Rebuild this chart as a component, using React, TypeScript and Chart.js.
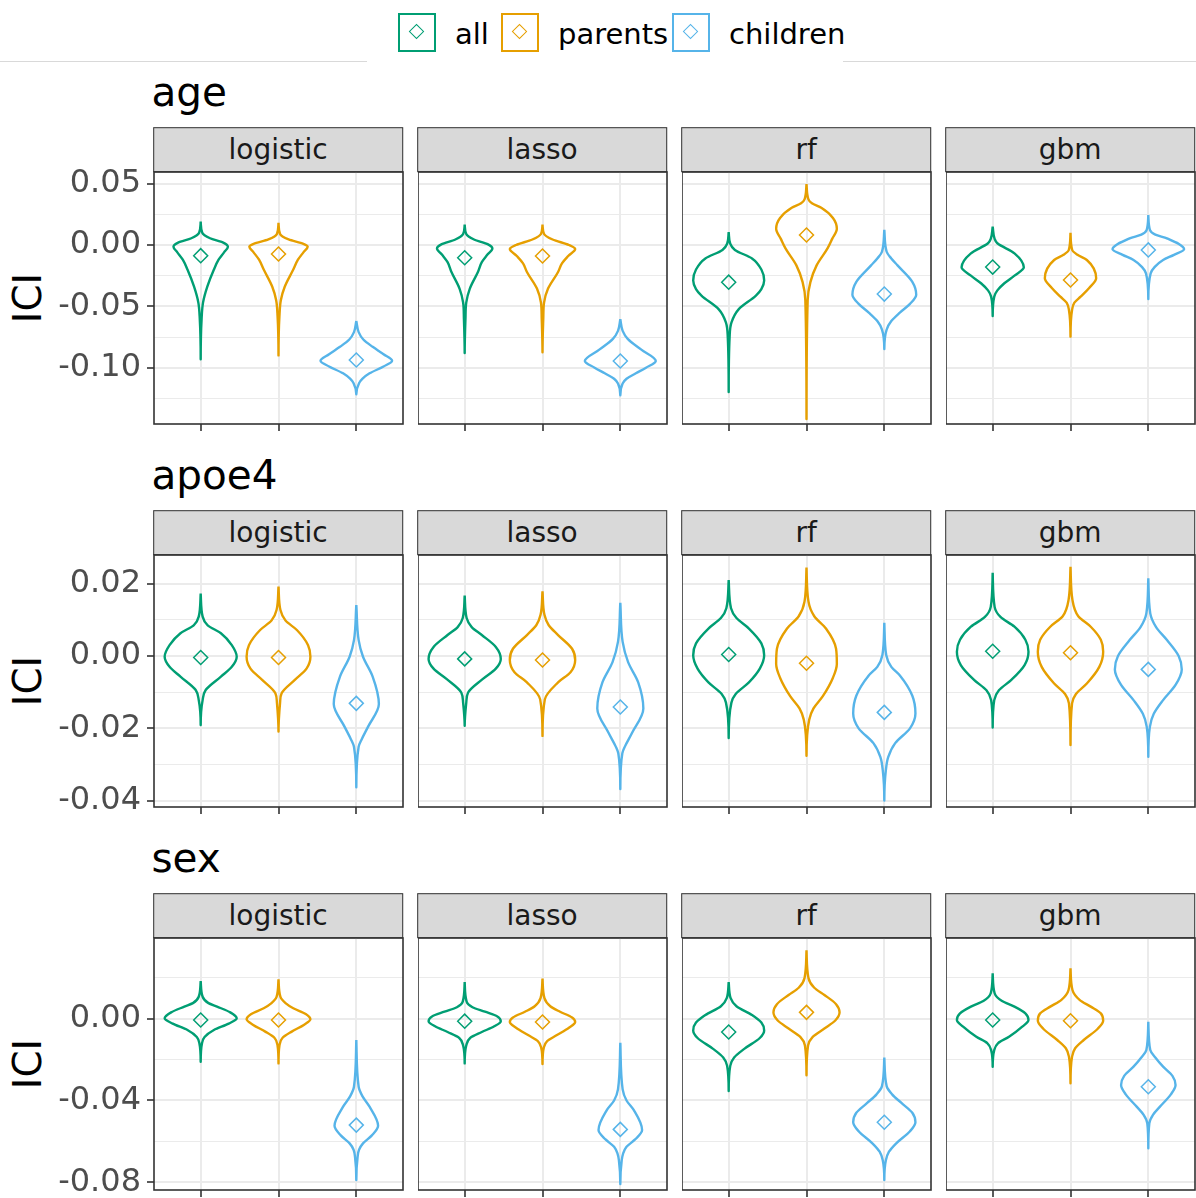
import React, { useEffect, useRef } from 'react';
import { Chart, registerables } from 'chart.js';

Chart.register(...registerables);
Chart.defaults.font.family = '"DejaVu Sans", sans-serif';

type Profile = [number, number][]; // [ICI value, half width in category units], top to bottom

const GROUPS = ['all', 'parents', 'children'];
const GROUP_COLORS = ['#009E73', '#E69F00', '#56B4E9'];
const MODELS = ['logistic', 'lasso', 'rf', 'gbm'];
const CATEGORY_POS = [1, 2, 3];

// ---------- age ----------
const AGE_TICKS = [0.05, 0, -0.05, -0.1];
const AGE_MINOR = [0.025, -0.025, -0.075, -0.125];
const AGE_LIMITS = [-0.1459, 0.0595];
const AGE_LOGISTIC: Profile[] = [
  [[0.019, 0], [0.010, 0.02], [0.0055, 0.12], [0.002, 0.29], [-0.0014, 0.35], [-0.006, 0.3], [-0.012, 0.23], [-0.02, 0.17], [-0.034, 0.085], [-0.047, 0.03], [-0.06, 0.012], [-0.0932, 0]],
  [[0.018, 0], [0.009, 0.02], [0.0045, 0.13], [0.001, 0.32], [-0.0014, 0.375], [-0.006, 0.32], [-0.012, 0.25], [-0.02, 0.19], [-0.034, 0.08], [-0.045, 0.03], [-0.058, 0.012], [-0.09, 0]],
  [[-0.062, 0], [-0.071, 0.03], [-0.077, 0.09], [-0.083, 0.21], [-0.089, 0.35], [-0.0943, 0.46], [-0.099, 0.35], [-0.1046, 0.17], [-0.109, 0.08], [-0.1127, 0.035], [-0.1217, 0]],
];
const AGE_LASSO: Profile[] = [
  [[0.0166, 0], [0.009, 0.02], [0.0045, 0.12], [0.0005, 0.3], [-0.0028, 0.356], [-0.008, 0.29], [-0.014, 0.22], [-0.022, 0.17], [-0.0357, 0.065], [-0.047, 0.02], [-0.06, 0.01], [-0.088, 0]],
  [[0.0166, 0], [0.009, 0.02], [0.0045, 0.13], [0.0, 0.34], [-0.0033, 0.42], [-0.009, 0.33], [-0.015, 0.25], [-0.022, 0.2], [-0.0357, 0.07], [-0.047, 0.02], [-0.06, 0.01], [-0.0875, 0]],
  [[-0.0606, 0], [-0.07, 0.03], [-0.0765, 0.095], [-0.0853, 0.27], [-0.0945, 0.456], [-0.1, 0.33], [-0.1046, 0.2], [-0.109, 0.08], [-0.1129, 0.03], [-0.1225, 0]],
];
const AGE_RF: Profile[] = [
  [[0.0104, 0], [0.001, 0.02], [-0.004, 0.08], [-0.011, 0.3], [-0.02, 0.42], [-0.029, 0.456], [-0.036, 0.42], [-0.0413, 0.35], [-0.0523, 0.13], [-0.0633, 0.035], [-0.075, 0.012], [-0.1198, 0]],
  [[0.0496, 0], [0.0372, 0.025], [0.034, 0.07], [0.0303, 0.19], [0.022, 0.34], [0.0132, 0.39], [0.005, 0.33], [-0.0028, 0.27], [-0.0166, 0.13], [-0.0303, 0.05], [-0.045, 0.015], [-0.1418, 0]],
  [[0.0124, 0], [-0.0055, 0.03], [-0.011, 0.09], [-0.0166, 0.17], [-0.03, 0.36], [-0.0405, 0.41], [-0.048, 0.33], [-0.0551, 0.2], [-0.062, 0.09], [-0.0689, 0.03], [-0.0848, 0]],
];
const AGE_GBM: Profile[] = [
  [[0.0149, 0], [0.005, 0.025], [0.0014, 0.06], [-0.0068, 0.28], [-0.0182, 0.4], [-0.025, 0.28], [-0.0312, 0.15], [-0.037, 0.06], [-0.0421, 0.02], [-0.0579, 0]],
  [[0.01, 0], [-0.0041, 0.022], [-0.008, 0.09], [-0.0122, 0.21], [-0.0272, 0.33], [-0.035, 0.24], [-0.0421, 0.13], [-0.047, 0.05], [-0.053, 0.02], [-0.0747, 0]],
  [[0.0244, 0], [0.0122, 0.022], [0.0085, 0.09], [0.0054, 0.24], [-0.0035, 0.46], [-0.008, 0.33], [-0.0122, 0.19], [-0.018, 0.08], [-0.0231, 0.03], [-0.044, 0]],
];
const AGE_MEANS = [
  [-0.0087, -0.0073, -0.0937],
  [-0.0104, -0.009, -0.0945],
  [-0.0303, 0.0082, -0.04],
  [-0.018, -0.0285, -0.004],
];

// ---------- apoe4 ----------
const APOE4_TICKS = [0.02, 0, -0.02, -0.04];
const APOE4_MINOR = [0.01, -0.01, -0.03];
const APOE4_LIMITS = [-0.04177, 0.02794];
const APOE4_LOGISTIC: Profile[] = [
  [[0.0173, 0], [0.0109, 0.025], [0.0085, 0.09], [0.0063, 0.26], [0.003, 0.4], [-0.0002, 0.463], [-0.003, 0.4], [-0.0057, 0.26], [-0.0094, 0.064], [-0.0122, 0.025], [-0.0191, 0]],
  [[0.0192, 0], [0.0127, 0.025], [0.0098, 0.09], [0.0072, 0.236], [0.003, 0.38], [-0.0002, 0.41], [-0.0035, 0.36], [-0.0066, 0.21], [-0.0103, 0.04], [-0.013, 0.02], [-0.0209, 0]],
  [[0.0141, 0], [0.0044, 0.03], [-0.0002, 0.086], [-0.0057, 0.21], [-0.0133, 0.29], [-0.0196, 0.15], [-0.023, 0.07], [-0.0251, 0.03], [-0.0363, 0]],
];
const APOE4_LASSO: Profile[] = [
  [[0.0167, 0], [0.0105, 0.025], [0.008, 0.09], [0.0058, 0.22], [0.0025, 0.4], [-0.0008, 0.464], [-0.0035, 0.4], [-0.0064, 0.23], [-0.0101, 0.044], [-0.013, 0.02], [-0.0193, 0]],
  [[0.0179, 0], [0.0114, 0.025], [0.0085, 0.08], [0.0058, 0.2], [0.002, 0.38], [-0.0011, 0.42], [-0.0045, 0.36], [-0.0073, 0.2], [-0.012, 0.03], [-0.0221, 0]],
  [[0.0147, 0], [0.0039, 0.03], [-0.0017, 0.1], [-0.0073, 0.23], [-0.0145, 0.296], [-0.0213, 0.15], [-0.025, 0.06], [-0.0269, 0.026], [-0.0368, 0]],
];
const APOE4_RF: Profile[] = [
  [[0.021, 0], [0.0132, 0.03], [0.0105, 0.1], [0.0076, 0.26], [0.0035, 0.42], [0.0002, 0.456], [-0.0035, 0.4], [-0.0073, 0.26], [-0.0105, 0.09], [-0.0129, 0.035], [-0.0227, 0]],
  [[0.0245, 0], [0.0151, 0.025], [0.011, 0.1], [0.0076, 0.25], [0.002, 0.38], [-0.0022, 0.39], [-0.006, 0.34], [-0.0111, 0.21], [-0.0145, 0.09], [-0.0176, 0.035], [-0.0276, 0]],
  [[0.0092, 0], [0.0002, 0.025], [-0.003, 0.09], [-0.0054, 0.2], [-0.011, 0.36], [-0.0159, 0.4], [-0.02, 0.33], [-0.0241, 0.14], [-0.028, 0.05], [-0.0316, 0.02], [-0.04, 0]],
];
const APOE4_GBM: Profile[] = [
  [[0.023, 0], [0.0136, 0.025], [0.0108, 0.1], [0.0081, 0.28], [0.0045, 0.42], [0.0012, 0.46], [-0.0025, 0.41], [-0.0066, 0.24], [-0.0095, 0.08], [-0.0122, 0.02], [-0.0198, 0]],
  [[0.0247, 0], [0.0155, 0.025], [0.011, 0.1], [0.0081, 0.26], [0.0045, 0.39], [0.0012, 0.42], [-0.003, 0.37], [-0.0076, 0.21], [-0.0105, 0.07], [-0.0131, 0.02], [-0.0246, 0]],
  [[0.0215, 0], [0.0118, 0.025], [0.008, 0.1], [0.0044, 0.24], [0.0, 0.39], [-0.0037, 0.43], [-0.008, 0.35], [-0.0122, 0.19], [-0.016, 0.07], [-0.0196, 0.02], [-0.0279, 0]],
];
const APOE4_MEANS = [
  [-0.0004, -0.0004, -0.0131],
  [-0.0008, -0.0011, -0.0141],
  [0.0004, -0.002, -0.0156],
  [0.0013, 0.0009, -0.0037],
];

// ---------- sex ----------
const SEX_TICKS = [0, -0.04, -0.08];
const SEX_MINOR = [0.02, -0.02, -0.06];
const SEX_LIMITS = [-0.08366, 0.03927];
const SEX_LOGISTIC: Profile[] = [
  [[0.0183, 0], [0.0106, 0.025], [0.0075, 0.1], [0.0058, 0.21], [0.003, 0.38], [0.0001, 0.463], [-0.0025, 0.36], [-0.0056, 0.17], [-0.009, 0.05], [-0.0121, 0.017], [-0.0211, 0]],
  [[0.0191, 0], [0.0105, 0.025], [0.0075, 0.09], [0.005, 0.19], [0.0022, 0.35], [-0.0004, 0.41], [-0.003, 0.33], [-0.0064, 0.17], [-0.0095, 0.05], [-0.0129, 0.013], [-0.0219, 0]],
  [[-0.0105, 0], [-0.0333, 0.03], [-0.038, 0.08], [-0.043, 0.17], [-0.0523, 0.28], [-0.057, 0.2], [-0.0609, 0.086], [-0.064, 0.035], [-0.0674, 0.017], [-0.0788, 0]],
];
const SEX_LASSO: Profile[] = [
  [[0.0178, 0], [0.0082, 0.025], [0.0055, 0.1], [0.0033, 0.26], [0.001, 0.42], [-0.0013, 0.464], [-0.0038, 0.38], [-0.0066, 0.22], [-0.0095, 0.07], [-0.0132, 0.02], [-0.0219, 0]],
  [[0.0195, 0], [0.0099, 0.025], [0.006, 0.1], [0.0033, 0.226], [0.0005, 0.38], [-0.0017, 0.42], [-0.0045, 0.34], [-0.0082, 0.18], [-0.011, 0.06], [-0.014, 0.018], [-0.0222, 0]],
  [[-0.0119, 0], [-0.0346, 0.03], [-0.04, 0.08], [-0.0445, 0.17], [-0.0544, 0.28], [-0.059, 0.19], [-0.0626, 0.08], [-0.066, 0.035], [-0.0692, 0.018], [-0.0807, 0]],
];
const SEX_RF: Profile[] = [
  [[0.0178, 0], [0.0099, 0.025], [0.006, 0.1], [0.0017, 0.3], [-0.002, 0.42], [-0.0058, 0.456], [-0.0095, 0.4], [-0.0148, 0.2], [-0.019, 0.07], [-0.0231, 0.02], [-0.0354, 0]],
  [[0.0333, 0], [0.0198, 0.025], [0.015, 0.1], [0.0115, 0.23], [0.007, 0.38], [0.003, 0.425], [-0.001, 0.37], [-0.0049, 0.23], [-0.009, 0.08], [-0.0132, 0.02], [-0.0277, 0]],
  [[-0.019, 0], [-0.033, 0.03], [-0.037, 0.1], [-0.0412, 0.22], [-0.046, 0.36], [-0.0506, 0.4], [-0.055, 0.33], [-0.061, 0.15], [-0.065, 0.06], [-0.0692, 0.02], [-0.0788, 0]],
];
const SEX_GBM: Profile[] = [
  [[0.022, 0], [0.0123, 0.025], [0.0085, 0.12], [0.0058, 0.28], [0.0025, 0.42], [-0.0007, 0.46], [-0.004, 0.38], [-0.0089, 0.21], [-0.012, 0.07], [-0.0154, 0.02], [-0.0235, 0]],
  [[0.0245, 0], [0.0139, 0.025], [0.009, 0.12], [0.0058, 0.26], [0.0025, 0.39], [-0.0011, 0.42], [-0.005, 0.35], [-0.0105, 0.17], [-0.0145, 0.06], [-0.0186, 0.02], [-0.0316, 0]],
  [[-0.0016, 0], [-0.0154, 0.025], [-0.019, 0.09], [-0.0235, 0.19], [-0.028, 0.31], [-0.0324, 0.35], [-0.037, 0.29], [-0.043, 0.15], [-0.047, 0.06], [-0.0511, 0.013], [-0.0633, 0]],
];
const SEX_MEANS = [
  [-0.0007, -0.0007, -0.052],
  [-0.0013, -0.0017, -0.0541],
  [-0.0066, 0.003, -0.0506],
  [-0.0007, -0.0011, -0.0333],
];

const ROWS = [
  { title: 'age', major: AGE_TICKS, minor: AGE_MINOR, limits: AGE_LIMITS, violins: [AGE_LOGISTIC, AGE_LASSO, AGE_RF, AGE_GBM], means: AGE_MEANS },
  { title: 'apoe4', major: APOE4_TICKS, minor: APOE4_MINOR, limits: APOE4_LIMITS, violins: [APOE4_LOGISTIC, APOE4_LASSO, APOE4_RF, APOE4_GBM], means: APOE4_MEANS },
  { title: 'sex', major: SEX_TICKS, minor: SEX_MINOR, limits: SEX_LIMITS, violins: [SEX_LOGISTIC, SEX_LASSO, SEX_RF, SEX_GBM], means: SEX_MEANS },
];

// ---------- layout ----------
const PANEL_LEFT = [154, 418, 682, 946];
const PANEL_W = 249;
const PANEL_TOP = [172, 555, 938];
const PANEL_H = 252;
const STRIP_H = 44;
const AXIS_W = 154;
const PAD = 3;
const XAXIS_H = 10;
const FONT = '"DejaVu Sans", sans-serif';

const borderPlugin = {
  id: 'panelBorder',
  afterDraw(chart: any) {
    const { ctx, chartArea: a } = chart;
    ctx.save();
    ctx.strokeStyle = '#333333';
    ctx.lineWidth = 1.6;
    ctx.strokeRect(a.left, a.top, a.right - a.left, a.bottom - a.top);
    ctx.restore();
  },
};

function Panel({ row, col }: { row: number; col: number }) {
  const ref = useRef<HTMLCanvasElement>(null);
  const axisW = col === 0 ? AXIS_W : 0;
  const width = axisW + PANEL_W + PAD;
  const height = PAD + PANEL_H + XAXIS_H;

  useEffect(() => {
    const r = ROWS[row];
    const isMajor = (v: number) => r.major.some((m) => Math.abs(m - v) < 1e-9);
    const datasets: any[] = [];
    r.violins[col].forEach((p, g) => {
      const c = CATEGORY_POS[g];
      const right = p.map(([v, w]) => ({ x: c + w, y: v }));
      const left = p.slice(0, -1).reverse().map(([v, w]) => ({ x: c - w, y: v }));
      datasets.push({
        label: GROUPS[g],
        data: [...right, ...left],
        borderColor: GROUP_COLORS[g],
        backgroundColor: 'rgba(0,0,0,0)',
        borderWidth: 2.4,
        pointRadius: 0,
        fill: false,
        cubicInterpolationMode: 'monotone',
        borderJoinStyle: 'round',
      });
    });
    r.means[col].forEach((m, g) => {
      datasets.push({
        label: GROUPS[g] + ' mean',
        data: [{ x: CATEGORY_POS[g], y: m }],
        showLine: false,
        pointStyle: 'rectRot',
        pointRadius: 7,
        pointBorderWidth: 1.5,
        pointBorderColor: GROUP_COLORS[g],
        pointBackgroundColor: 'rgba(0,0,0,0)',
        borderColor: GROUP_COLORS[g],
      });
    });
    const allTicks = [...r.major, ...r.minor].sort((a, b) => a - b);
    const chart = new Chart(ref.current!, {
      type: 'line',
      data: { datasets },
      plugins: [borderPlugin],
      options: {
        animation: false,
        responsive: false,
        maintainAspectRatio: false,
        indexAxis: 'y',
        events: [],
        layout: { autoPadding: false, padding: { top: PAD, right: PAD, left: 0, bottom: 0 } },
        plugins: { legend: { display: false }, tooltip: { enabled: false } },
        scales: {
          x: {
            type: 'linear',
            position: 'bottom',
            min: 0.4,
            max: 3.6,
            afterBuildTicks: (s: any) => {
              s.ticks = CATEGORY_POS.map((value) => ({ value }));
            },
            afterFit: (s: any) => {
              s.height = XAXIS_H;
              s.paddingLeft = 0;
              s.paddingRight = 0;
            },
            ticks: { display: false },
            grid: { color: '#EBEBEB', lineWidth: 2, drawTicks: true, tickLength: 7, tickColor: '#333333', tickWidth: 1.6 },
            border: { display: false },
          },
          y: {
            type: 'linear',
            position: 'left',
            min: r.limits[0],
            max: r.limits[1],
            afterBuildTicks: (s: any) => {
              s.ticks = allTicks.map((value) => ({ value }));
            },
            afterFit: (s: any) => {
              s.width = axisW;
              s.paddingTop = 0;
              s.paddingBottom = 0;
            },
            ticks: {
              display: col === 0,
              autoSkip: false,
              padding: 6,
              color: '#4D4D4D',
              font: { family: FONT, size: 32 },
              callback: (v: any) => (isMajor(Number(v)) ? Number(v).toFixed(2) : ''),
            },
            grid: {
              color: '#EBEBEB',
              lineWidth: (ctx: any) => (ctx.tick && isMajor(ctx.tick.value) ? 2 : 1),
              drawTicks: col === 0,
              tickLength: 7,
              tickWidth: 1.6,
              tickColor: (ctx: any) => (ctx.tick && isMajor(ctx.tick.value) ? '#333333' : 'rgba(0,0,0,0)'),
            },
            border: { display: false },
          },
        },
      } as any,
    });
    return () => chart.destroy();
  }, [row, col]);

  return (
    <canvas
      ref={ref}
      width={width}
      height={height}
      style={{
        position: 'absolute',
        left: PANEL_LEFT[col] - axisW,
        top: PANEL_TOP[row] - PAD,
        width,
        height,
      }}
    />
  );
}

const textTop = (baseline: number, size: number) => baseline - 0.846 * size;

export default function App() {
  const legendKeyX = [398, 501, 672];
  const legendTextX = [455, 558, 729];
  return (
    <div
      style={{
        position: 'absolute',
        left: 0,
        top: 0,
        width: 1196,
        height: 1198,
        background: '#ffffff',
        overflow: 'hidden',
        fontFamily: FONT,
      }}
    >
      <div style={{ position: 'absolute', left: 0, top: 61, width: 367, height: 1, background: '#D9D9D9' }} />
      <div style={{ position: 'absolute', left: 843, top: 61, width: 353, height: 1, background: '#D9D9D9' }} />

      {GROUPS.map((g, i) => (
        <React.Fragment key={g}>
          <div
            style={{
              position: 'absolute',
              left: legendKeyX[i],
              top: 13,
              width: 38,
              height: 39,
              boxSizing: 'border-box',
              border: `2px solid ${GROUP_COLORS[i]}`,
              background: '#fff',
            }}
          >
            <div
              style={{
                position: 'absolute',
                left: 10.5,
                top: 11,
                width: 9,
                height: 9,
                border: `1.5px solid ${GROUP_COLORS[i]}`,
                transform: 'rotate(45deg)',
              }}
            />
          </div>
          <div
            style={{
              position: 'absolute',
              left: legendTextX[i],
              top: textTop(45, 29),
              fontSize: 29,
              lineHeight: 1,
              color: '#000',
              whiteSpace: 'nowrap',
            }}
          >
            {g}
          </div>
        </React.Fragment>
      ))}

      {ROWS.map((r, ri) => (
        <React.Fragment key={r.title}>
          <div
            style={{
              position: 'absolute',
              left: 151.5,
              top: textTop(106 + ri * 383, 40.5),
              fontSize: 40.5,
              lineHeight: 1,
              color: '#000',
              whiteSpace: 'nowrap',
            }}
          >
            {r.title}
          </div>
          <div
            style={{
              position: 'absolute',
              left: 28 - 100,
              top: PANEL_TOP[ri] + PANEL_H / 2 - 23,
              width: 200,
              height: 46,
              lineHeight: '46px',
              fontSize: 39,
              textAlign: 'center',
              color: '#000',
              transform: 'rotate(-90deg)',
            }}
          >
            ICI
          </div>
          {MODELS.map((m, ci) => (
            <div
              key={m}
              style={{
                position: 'absolute',
                left: PANEL_LEFT[ci],
                top: PANEL_TOP[ri] - STRIP_H,
                width: PANEL_W + 0.8,
                height: STRIP_H + 0.8,
                boxSizing: 'border-box',
                border: '1.6px solid #333333',
                background: '#D9D9D9',
                color: '#1A1A1A',
                fontSize: 28,
                lineHeight: `${STRIP_H}px`,
                textAlign: 'center',
                whiteSpace: 'nowrap',
                transform: 'translate(-0.8px, -0.8px)',
              }}
            >
              {m}
            </div>
          ))}
          {MODELS.map((m, ci) => (
            <Panel key={'p' + m} row={ri} col={ci} />
          ))}
        </React.Fragment>
      ))}
    </div>
  );
}
